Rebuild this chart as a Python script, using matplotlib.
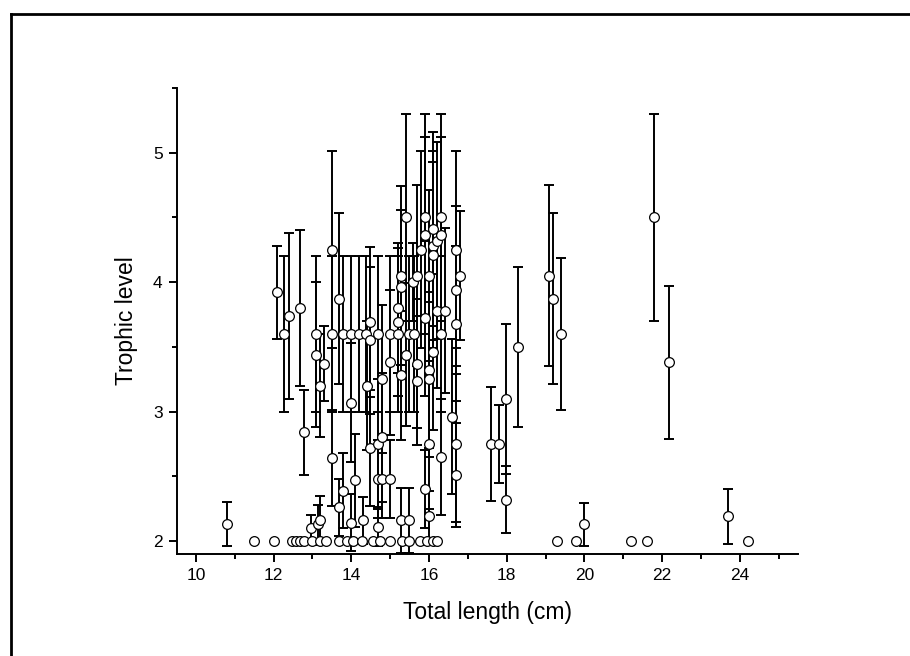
import matplotlib
matplotlib.use("Agg")
import matplotlib.pyplot as plt
from matplotlib.lines import Line2D
from matplotlib.ticker import MultipleLocator
import numpy as np

plt.rcParams['font.family'] = ['Liberation Sans', 'DejaVu Sans']

# total length (cm), trophic level, sd
length = [
    10.8, 11.5, 12.0, 12.09, 12.27, 12.39, 12.68, 12.79, 12.97, 13.09,
    13.09, 13.15, 13.19, 13.19, 13.29, 13.5, 13.5, 13.5, 13.69,
    13.69, 13.79, 13.79, 13.99, 13.99, 13.99, 14.09, 14.2,
    14.31, 14.39, 14.41, 14.48, 14.48, 14.48, 14.69, 14.69, 14.69,
    14.69, 14.8, 14.8, 14.8, 14.99, 14.99, 14.99, 15.19,
    15.19, 15.19, 15.29, 15.29, 15.29, 15.29, 15.4, 15.4, 15.49,
    15.49, 15.59, 15.61, 15.69, 15.69, 15.69, 15.79, 15.89, 15.89, 15.89,
    15.89, 16.0, 16.0, 16.0, 16.0, 16.0, 16.1, 16.11, 16.11, 16.11,
    16.21, 16.21, 16.31, 16.31, 16.3, 16.3, 16.4, 16.6, 16.7, 16.7,
    16.7, 16.7, 16.7, 16.8,
    17.59, 17.8, 17.99, 17.99, 18.3, 19.1, 19.2, 19.4, 19.29, 19.79,
    20.0, 21.2, 21.6, 21.8, 22.19, 23.7, 24.2,
    12.48, 12.57, 12.68, 12.78, 13.0, 13.2, 13.36, 13.68, 13.88, 14.05,
    14.28, 14.55, 14.75, 15.0, 15.3, 15.48, 15.78, 15.95, 16.1, 16.2,
]
trophic = [
    2.13, 2.0, 2.0, 3.92, 3.6, 3.74, 3.8, 2.84, 2.1, 3.6,
    3.44, 2.13, 2.16, 3.2, 3.37, 4.25, 3.6, 2.64, 3.87,
    2.26, 2.39, 3.6, 3.6, 3.07, 2.14, 2.47, 3.6,
    2.16, 3.6, 3.2, 3.69, 3.55, 2.72, 3.6, 2.75, 2.48,
    2.11, 3.25, 2.8, 2.48, 3.6, 3.38, 2.48, 3.6,
    3.8, 3.69, 4.05, 3.96, 3.28, 2.16, 4.5, 3.44, 3.6,
    2.16, 4.0, 3.6, 4.05, 3.37, 3.24, 4.25, 4.5, 4.36, 3.72,
    2.4, 4.05, 3.32, 3.25, 2.75, 2.19, 3.46, 4.41, 4.28, 4.21,
    4.32, 3.78, 4.5, 4.36, 3.6, 2.65, 3.78, 2.96, 4.25, 3.94,
    3.68, 2.75, 2.51, 4.05,
    2.75, 2.75, 3.1, 2.32, 3.5, 4.05, 3.87, 3.6, 2.0, 2.0,
    2.13, 2.0, 2.0, 4.5, 3.38, 2.19, 2.0,
    2.0, 2.0, 2.0, 2.0, 2.0, 2.0, 2.0, 2.0, 2.0, 2.0,
    2.0, 2.0, 2.0, 2.0, 2.0, 2.0, 2.0, 2.0, 2.0, 2.0,
]
sd = [
    0.17, 0, 0, 0.36, 0.6, 0.64, 0.6, 0.33, 0.1, 0.6,
    0.56, 0.15, 0.19, 0.4, 0.29, 0.76, 0.6, 0.37, 0.66,
    0.22, 0.29, 0.6, 0.6, 0.46, 0.22, 0.36, 0.6,
    0.18, 0.6, 0.5, 0.58, 0.57, 0.45, 0.6, 0.5, 0.3,
    0.15, 0.57, 0.5, 0.3, 0.6, 0.56, 0.3, 0.6,
    0.5, 0.57, 0.69, 0.6, 0.5, 0.25, 0.8, 0.55, 0.6,
    0.25, 0.3, 0.6, 0.7, 0.5, 0.5, 0.76, 0.8, 0.76, 0.6,
    0.3, 0.66, 0.6, 0.6, 0.5, 0.2, 0.6, 0.75, 0.73, 0.72,
    0.76, 0.6, 0.8, 0.76, 0.6, 0.45, 0.64, 0.6, 0.76, 0.65,
    0.6, 0.6, 0.4, 0.5,
    0.44, 0.3, 0.58, 0.26, 0.62, 0.7, 0.66, 0.59, 0, 0,
    0.165, 0, 0, 0.8, 0.59, 0.21, 0,
    0, 0, 0, 0, 0, 0, 0, 0, 0, 0,
    0, 0, 0, 0, 0, 0, 0, 0, 0, 0,
]

x = np.array(length)
y = np.array(trophic)
e = np.array(sd)
has_err = e > 0

fig = plt.figure(figsize=(9.1, 6.56), dpi=100)
ax = fig.add_axes([0.194, 0.1555, 0.683, 0.7105])

ax.errorbar(x[has_err], y[has_err], yerr=e[has_err], fmt='none',
            ecolor='black', elinewidth=1.4, capsize=3.8, capthick=1.4, zorder=2)
ax.plot(x, y, 'o', ms=7, mfc='white', mec='black', mew=0.9, zorder=3)

ax.set_xlim(9.5, 25.5)
ax.set_ylim(1.9, 5.5)
ax.xaxis.set_major_locator(MultipleLocator(2))
ax.xaxis.set_minor_locator(MultipleLocator(1))
ax.yaxis.set_major_locator(MultipleLocator(1))
ax.yaxis.set_minor_locator(MultipleLocator(0.5))

for side in ['top', 'right']:
    ax.spines[side].set_visible(False)
for side in ['left', 'bottom']:
    ax.spines[side].set_linewidth(1.4)
ax.tick_params(which='major', direction='out', length=6, width=1.4, labelsize=12.5, pad=4)
ax.tick_params(which='minor', direction='out', length=3.5, width=1.4)

ax.set_xlabel('Total length (cm)', fontsize=16.5, labelpad=13)
ax.set_ylabel('Trophic level', fontsize=16.5, labelpad=11)

# outer frame (only the top and left edges fall inside the picture)
fx = 11 / 910
fy = 1 - 14 / 656
fig.add_artist(Line2D([fx, fx], [-0.01, fy], transform=fig.transFigure, color='black', lw=2))
fig.add_artist(Line2D([fx, 1.01], [fy, fy], transform=fig.transFigure, color='black', lw=2))

fig.savefig('out.png', dpi=100)
